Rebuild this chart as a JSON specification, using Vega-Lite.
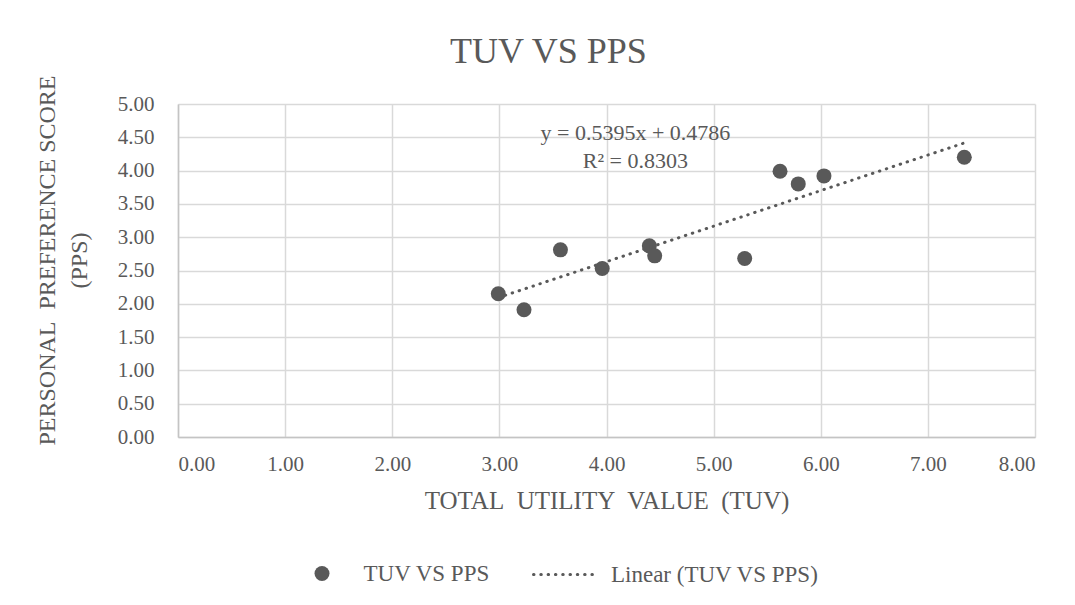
{
  "$schema": "https://vega.github.io/schema/vega-lite/v6.json",
  "width": 857,
  "height": 333,
  "autosize": {"type": "none"},
  "padding": {"left": 178, "top": 104, "right": 40, "bottom": 168},
  "background": "white",
  "datasets": {
    "points": [
      {"tuv": 2.99, "pps": 2.15},
      {"tuv": 3.23, "pps": 1.91},
      {"tuv": 3.57, "pps": 2.81},
      {"tuv": 3.96, "pps": 2.53},
      {"tuv": 4.40, "pps": 2.87},
      {"tuv": 4.45, "pps": 2.72},
      {"tuv": 5.29, "pps": 2.68},
      {"tuv": 5.62, "pps": 3.99},
      {"tuv": 5.79, "pps": 3.80},
      {"tuv": 6.03, "pps": 3.92},
      {"tuv": 7.34, "pps": 4.20}
    ],
    "labels": [
      {"tuv": 4.27, "pps": 4.57, "text": "y = 0.5395x + 0.4786"},
      {"tuv": 4.27, "pps": 4.15, "text": "R² = 0.8303"}
    ]
  },
  "title": {
    "text": "TUV VS PPS",
    "font": "Liberation Serif",
    "fontSize": 36,
    "fontWeight": "normal",
    "color": "#595959",
    "anchor": "middle",
    "frame": "group",
    "dx": -58,
    "dy": 54,
    "offset": 30,
    "baseline": "alphabetic"
  },
  "config": {
    "view": {"stroke": null},
    "axis": {
      "labelFont": "Liberation Serif",
      "labelFontSize": 21,
      "labelColor": "#595959",
      "labelOverlap": false,
      "titleFont": "Liberation Serif",
      "titleFontSize": 25,
      "titleFontWeight": "normal",
      "titleColor": "#595959",
      "gridColor": "#D9D9D9",
      "gridWidth": 1.5,
      "domainColor": "#C4C4C4",
      "domainWidth": 1.5,
      "ticks": false,
      "tickSize": 0
    }
  },
  "encoding": {
    "x": {
      "field": "tuv", "type": "quantitative",
      "scale": {"domain": [0, 8], "nice": false},
      "axis": {
        "values": [0, 1, 2, 3, 4, 5, 6, 7, 8],
        "tickCount": 20,
        "format": ".2f",
        "labelPadding": 16,
        "title": "TOTAL\u00a0 UTILITY\u00a0 VALUE\u00a0 (TUV)",
        "titleY": 71,
        "titleBaseline": "alphabetic"
      }
    },
    "y": {
      "field": "pps", "type": "quantitative",
      "scale": {"domain": [0, 5], "nice": false},
      "axis": {
        "values": [0, 0.5, 1, 1.5, 2, 2.5, 3, 3.5, 4, 4.5, 5],
        "tickCount": 20,
        "format": ".2f",
        "labelOverlap": false,
        "labelPadding": 24,
        "title": ["PERSONAL\u00a0 PREFERENCE SCORE", "(PPS)"],
        "titleFontSize": 24,
        "titleAngle": -90,
        "titleX": -131,
        "titleY": 156,
        "titleAlign": "center",
        "titleBaseline": "middle",
        "titleLineHeight": 32
      }
    }
  },
  "layer": [
    {
      "data": {"name": "points"},
      "mark": {"type": "point", "filled": true, "size": 225, "opacity": 1},
      "encoding": {
        "color": {
          "datum": "TUV VS PPS",
          "scale": {"range": ["#595959"]},
          "legend": {
            "title": null,
            "orient": "none",
            "legendX": 132.5,
            "legendY": 458,
            "padding": 0,
            "symbolType": "circle",
            "symbolSize": 225,
            "symbolOpacity": 1,
            "labelFont": "Liberation Serif",
            "labelFontSize": 23,
            "labelColor": "#595959",
            "labelOffset": 30,
            "labelLimit": 400
          }
        }
      }
    },
    {
      "data": {"name": "points"},
      "transform": [{"regression": "pps", "on": "tuv"}],
      "mark": {"type": "line", "strokeWidth": 3, "strokeCap": "round", "color": "#595959"},
      "encoding": {
        "strokeDash": {
          "datum": "Linear (TUV VS PPS)",
          "scale": {"range": [[0.5, 6.8]]},
          "legend": {
            "title": null,
            "orient": "none",
            "legendX": 354,
            "legendY": 436.5,
            "padding": 0,
            "symbolType": "stroke",
            "symbolSize": 4225,
            "symbolStrokeWidth": 3,
            "symbolStrokeColor": "#595959",
            "labelFont": "Liberation Serif",
            "labelFontSize": 23,
            "labelColor": "#595959",
            "labelOffset": 11,
            "labelLimit": 400,
            "encode": {"symbols": {"update": {"strokeCap": {"value": "round"}}}}
          }
        }
      }
    },
    {
      "data": {"name": "labels"},
      "mark": {"type": "text", "font": "Liberation Serif", "fontSize": 22, "color": "#595959", "align": "center", "baseline": "middle"},
      "encoding": {
        "text": {"field": "text"}
      }
    }
  ]
}
